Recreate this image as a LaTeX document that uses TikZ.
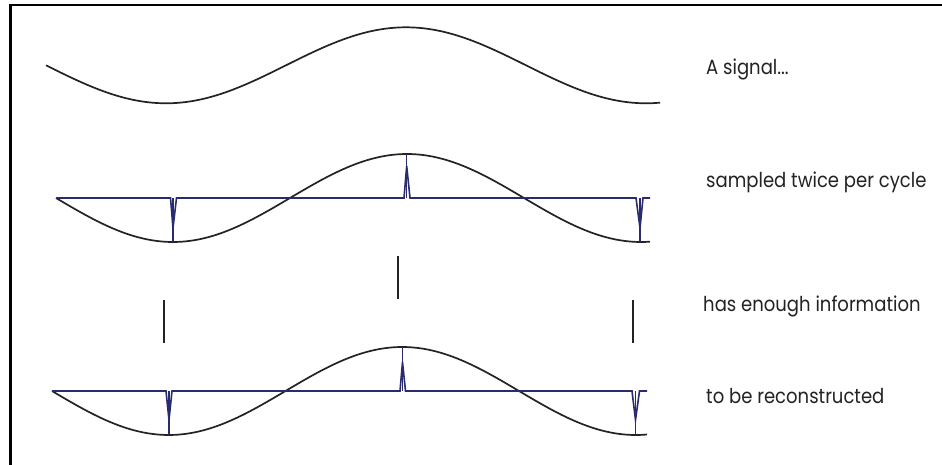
\documentclass[tikz,border=0pt]{standalone}
\usepackage{fontspec}
\setmainfont{Poppins}[FakeStretch=0.88]
\definecolor{sigblue}{RGB}{42,42,110}
\definecolor{sigblack}{RGB}{35,35,35}
\begin{document}
\begin{tikzpicture}[x=1pt,y=-1pt,
  sig/.style={sigblack, line width=1.7pt},
  samp/.style={sigblue, line width=1.6pt, line join=miter},
  stem/.style={sigblue, line width=1.1pt},
  tickline/.style={sigblack, line width=1.3pt},
  lbl/.style={anchor=base west, inner sep=0pt, font=\fontsize{20.5}{24}\selectfont, text=sigblack},
  frameline/.style={black, line width=2.5pt}]
\useasboundingbox (0,0) rectangle (942,465);
\fill[white] (0,0) rectangle (942,465);
% frame
\draw[frameline] (10.3,465) -- (10.3,5) -- (942,5);
% row 1: signal
\draw[sig] plot[domain=46:660, samples=160, smooth] (\x, {65.3 + 38*sin(0.75*(\x-46))});
% row 2: sampled
\draw[sig] plot[domain=56:650, samples=160, smooth] (\x, {198 + 44*sin(0.769231*(\x-56))});
\draw[samp] (56,198) -- (170.5,198) -- (173,228) -- (176.5,198) -- (404,198) -- (406.7,166) -- (410,198) -- (636,198) -- (640,228) -- (643,198) -- (650,198);
\draw[stem] (173,198) -- (173,242);
\draw[stem] (406.7,198) -- (406.7,154);
\draw[stem] (640,198) -- (640,242);
% row 3: ticks
\draw[tickline] (164,300) -- (164,343);
\draw[tickline] (398,256) -- (398,299);
\draw[tickline] (633,300) -- (633,343);
% row 4: reconstructed
\draw[sig] plot[domain=52:647, samples=160, smooth] (\x, {391 + 44*sin(0.770878*(\x-52))});
\draw[samp] (52,391) -- (166,391) -- (169,420) -- (172,391) -- (400,391) -- (402.5,362) -- (405.5,391) -- (632,391) -- (635.5,420) -- (639.5,391) -- (647,391);
\draw[stem] (169,391) -- (169,435);
\draw[stem] (402.5,391) -- (402.5,347);
\draw[stem] (635.5,391) -- (635.5,435);
% labels
\node[lbl] (t1) at (706,75) {A signal...};
\node[lbl] (t2) at (706,188) {sampled twice per cycle};
\node[lbl] (t3) at (703,311.7) {has enough information};
\node[lbl] (t4) at (706,403) {to be reconstructed};
\end{tikzpicture}
\end{document}
